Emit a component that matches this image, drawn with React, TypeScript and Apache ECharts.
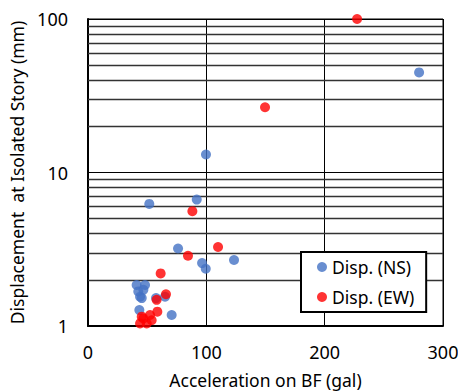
import React, { useEffect, useRef } from "react";
import * as echarts from "echarts";

const nsData: number[][] = [
  [279.8, 44.9], [99.7, 13.1], [91.9, 6.66], [51.8, 6.24], [76.1, 3.2],
  [96.4, 2.57], [99.5, 2.36], [123.4, 2.69], [41.1, 1.85], [48.2, 1.85],
  [42.5, 1.68], [46.8, 1.72], [44.0, 1.55], [45.4, 1.52], [57.5, 1.52],
  [65.1, 1.55], [43.4, 1.27], [70.7, 1.18],
];
const ewData: number[][] = [
  [227.4, 100], [149.6, 26.6], [88.2, 5.6], [109.9, 3.27], [84.5, 2.87],
  [61.4, 2.2], [65.9, 1.61], [58.0, 1.48], [58.6, 1.24], [52.4, 1.18],
  [46.8, 1.12], [44.0, 1.04], [49.6, 1.04], [45.4, 1.15], [53.8, 1.09],
];
const minorGridValues: number[] = [2, 3, 4, 5, 6, 7, 8, 9, 20, 30, 40, 50, 60, 70, 80, 90];
const FONT = "Noto Sans";

export default function App() {
  const ref = useRef<HTMLDivElement>(null);
  useEffect(() => {
    if (!ref.current) return;
    const chart = echarts.init(ref.current, undefined, { renderer: "svg" });
    chart.setOption({
      animation: false,
      textStyle: { fontFamily: FONT },
      grid: {
        left: 88, right: 15, top: 19, bottom: 66,
        outerBoundsMode: "none",
        containLabel: false,
        show: true, borderColor: "#000", borderWidth: 1, backgroundColor: "transparent",
      },
      legend: {
        orient: "vertical",
        left: 301, top: 252,
        padding: [5, 12, 5, 16],
        itemGap: 10,
        itemWidth: 10, itemHeight: 10,
        borderColor: "#000", borderWidth: 2, backgroundColor: "#fff",
        textStyle: { fontFamily: FONT, fontSize: 17.5, lineHeight: 20, color: "#000" },
        data: ["Disp. (NS)", "Disp. (EW)"],
      },
      xAxis: {
        type: "value",
        min: 0, max: 300, interval: 100,
        name: "Acceleration on BF (gal)",
        nameLocation: "middle", nameGap: 45,
        nameTextStyle: { fontFamily: FONT, fontSize: 17.5, color: "#000" },
        axisLine: { show: true, lineStyle: { color: "#000", width: 2 } },
        axisTick: { show: false },
        axisLabel: { fontFamily: FONT, fontSize: 18, color: "#000", margin: 17 },
        splitLine: { show: true, lineStyle: { color: "#000", width: 1 } },
      },
      yAxis: {
        type: "log",
        logBase: 10, min: 1, max: 100,
        name: "Displacement  at Isolated Story (mm)",
        nameLocation: "middle", nameGap: 51,
        nameTextStyle: { fontFamily: FONT, fontSize: 17.5, color: "#000" },
        axisLine: { show: true, lineStyle: { color: "#000", width: 2 } },
        axisTick: { show: false },
        axisLabel: { fontFamily: FONT, fontSize: 18, color: "#000", margin: 20 },
        splitLine: { show: true, lineStyle: { color: "#000", width: 1 } },
      },
      series: [
        {
          name: "Disp. (NS)",
          type: "scatter",
          symbolSize: 10,
          itemStyle: { color: "#4472C4" },
          data: nsData,
          z: 3,
          markLine: {
            silent: true,
            symbol: "none",
            label: { show: false },
            lineStyle: { color: "#333", width: 1.3, type: "solid" },
            data: minorGridValues.map((v) => ({ yAxis: v })),
            z: 1,
          },
        },
        {
          name: "Disp. (EW)",
          type: "scatter",
          symbolSize: 10,
          itemStyle: { color: "#FF0000" },
          data: ewData,
          z: 4,
        },
      ],
    });
    return () => chart.dispose();
  }, []);
  return (
    <div
      ref={ref}
      style={{ position: "absolute", left: 0, top: 0, width: 458, height: 392 }}
    />
  );
}
